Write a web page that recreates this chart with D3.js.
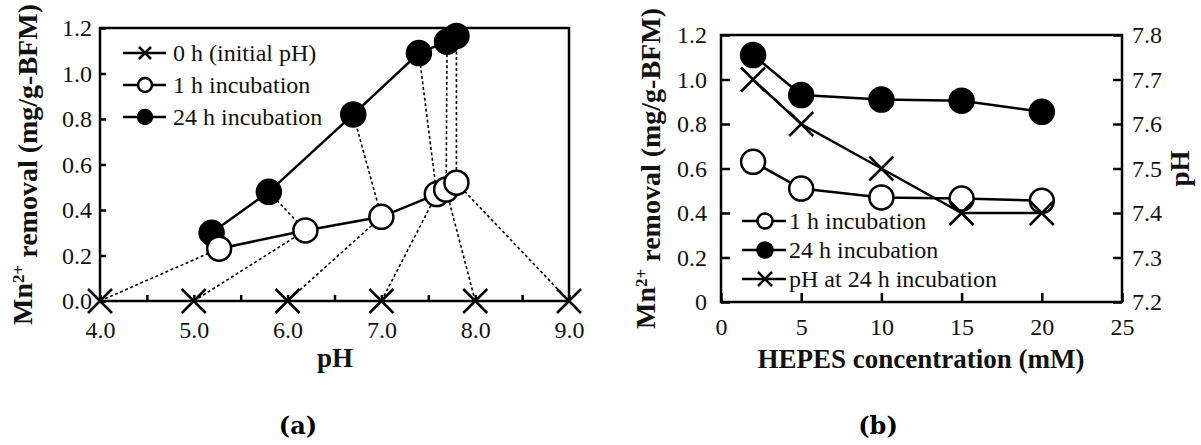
<!DOCTYPE html>
<html>
<head>
<meta charset="utf-8">
<script src="https://cdn.jsdelivr.net/npm/d3@7"></script>
<style>
  body { margin: 0; background: #fff; }
</style>
</head>
<body>
<div id="chart"></div>
<script>
// panel (a): initial pH -> pH / removal after 1 h and 24 h
var initialPH  = [4, 5, 6, 7, 8, 9];
var ph1h       = [5.27, 6.19, 7.00, 7.59, 7.69, 7.80];
var removal1h  = [0.23, 0.31, 0.37, 0.47, 0.49, 0.52];
var ph24h      = [5.19, 5.80, 6.70, 7.40, 7.70, 7.80];
var removal24h = [0.30, 0.48, 0.82, 1.09, 1.14, 1.165];

// panel (b): HEPES concentration
var hepes       = [2, 5, 10, 15, 20];
var removalB1h  = [0.63, 0.51, 0.47, 0.465, 0.455];
var removalB24h = [1.11, 0.93, 0.91, 0.905, 0.855];
var phB24h      = [7.70, 7.60, 7.50, 7.40, 7.40];

var legendA = ["0 h (initial pH)", "1 h incubation", "24 h incubation"];
var legendB = ["1 h incubation", "24 h incubation", "pH at 24 h incubation"];

var serif = "'Liberation Serif', 'Times New Roman', Times, serif";

var svg = d3.select("#chart").append("svg")
  .attr("width", 1201).attr("height", 445)
  .attr("font-family", serif);

function cross(g, x, y, s) {
  g.append("path")
    .attr("d", `M${x - s},${y - s}L${x + s},${y + s}M${x - s},${y + s}L${x + s},${y - s}`)
    .attr("stroke", "#000").attr("stroke-width", 2.5).attr("fill", "none");
}

function circle(g, x, y, r, filled) {
  g.append("circle")
    .attr("cx", x).attr("cy", y).attr("r", r)
    .attr("fill", filled ? "#000" : "#fff")
    .attr("stroke", "#000").attr("stroke-width", 2.5);
}

function txt(g) {
  return g.append("text").style("font-family", serif).attr("fill", "#111");
}

function yTitle(g, x, y) {
  var t = txt(g)
    .attr("transform", `translate(${x},${y}) rotate(-90)`)
    .attr("text-anchor", "middle")
    .style("font-size", "28px").style("font-weight", "bold");
  t.append("tspan").text("Mn");
  t.append("tspan").attr("dy", "-0.45em").style("font-size", "17px").text("2+");
  t.append("tspan").attr("dy", "0.45em").text(" removal (mg/g-BFM)");
}

function styleAxis(sel) {
  sel.attr("font-family", null).attr("font-size", null);
  sel.select(".domain").remove();
  sel.selectAll(".tick line").attr("stroke", "#000").attr("stroke-width", 2.5);
  sel.selectAll(".tick text")
    .style("font-family", serif).style("font-size", "24px").attr("fill", "#111");
}

// ---------------- panel (a) ----------------
var ga = svg.append("g");
var xa = d3.scaleLinear().domain([4, 9]).range([100, 569]);
var ya = d3.scaleLinear().domain([0, 1.2]).range([301, 28]);

ga.append("g").attr("transform", "translate(0,301)")
  .call(d3.axisBottom(xa).tickValues(d3.range(4, 9.01, 0.5)).tickSize(-6).tickPadding(20)
    .tickFormat(d => d % 1 === 0 ? d3.format(".1f")(d) : ""))
  .call(styleAxis);

ga.append("g").attr("transform", "translate(100,0)")
  .call(d3.axisLeft(ya).tickValues(d3.range(0, 1.21, 0.2)).tickSize(-6).tickPadding(8)
    .tickFormat(d3.format(".1f")))
  .call(styleAxis);

ga.append("rect")
  .attr("x", xa(4)).attr("y", ya(1.2))
  .attr("width", xa(9) - xa(4)).attr("height", ya(0) - ya(1.2))
  .attr("fill", "none").attr("stroke", "#000").attr("stroke-width", 2.5);

// dotted connectors 0 h -> 1 h -> 24 h
initialPH.forEach(function(p, i) {
  ga.append("path")
    .attr("d", d3.line()([[xa(p), ya(0)], [xa(ph1h[i]), ya(removal1h[i])], [xa(ph24h[i]), ya(removal24h[i])]]))
    .attr("fill", "none").attr("stroke", "#000").attr("stroke-width", 1.6)
    .attr("stroke-dasharray", "3,2.5");
});

var lineA = d3.line().x(d => xa(d[0])).y(d => ya(d[1]));

ga.append("path").datum(ph24h.map((p, i) => [p, removal24h[i]]))
  .attr("d", lineA).attr("fill", "none").attr("stroke", "#000").attr("stroke-width", 2.5);
ph24h.forEach((p, i) => circle(ga, xa(p), ya(removal24h[i]), 12, true));

ga.append("path").datum(ph1h.map((p, i) => [p, removal1h[i]]))
  .attr("d", lineA).attr("fill", "none").attr("stroke", "#000").attr("stroke-width", 2.5);
ph1h.forEach((p, i) => circle(ga, xa(p), ya(removal1h[i]), 12, false));

initialPH.forEach(p => cross(ga, xa(p), ya(0), 12));

// legend (a)
legendA.forEach(function(name, i) {
  var ly = 53 + i * 32;
  ga.append("line").attr("x1", 123).attr("x2", 166).attr("y1", ly).attr("y2", ly)
    .attr("stroke", "#000").attr("stroke-width", 2.5);
  if (i === 0) cross(ga, 145, ly, 6);
  else circle(ga, 145, ly, 7, i === 2);
  txt(ga).attr("x", 173).attr("y", ly).attr("dy", "0.33em")
    .style("font-size", "24px").text(name);
});

yTitle(ga, 32, ya(0.6));
txt(ga).attr("x", 335).attr("y", 367).attr("text-anchor", "middle")
  .style("font-size", "27px").style("font-weight", "bold").text("pH");
ga.append("text").attr("x", 298).attr("y", 434).attr("text-anchor", "middle")
  .style("font-family", "'DejaVu Serif', serif").style("font-size", "24px").style("font-weight", "bold")
  .text("(a)");

// ---------------- panel (b) ----------------
var gb = svg.append("g");
var xb = d3.scaleLinear().domain([0, 25]).range([721, 1122]);
var yb = d3.scaleLinear().domain([0, 1.2]).range([302, 35]);
var yb2 = d3.scaleLinear().domain([7.2, 7.8]).range([302, 35]);

gb.append("g").attr("transform", "translate(0,302)")
  .call(d3.axisBottom(xb).tickValues([0, 5, 10, 15, 20, 25]).tickSize(-9).tickPadding(16))
  .call(styleAxis);

gb.append("g").attr("transform", "translate(721,0)")
  .call(d3.axisLeft(yb).tickValues(d3.range(0, 1.21, 0.2)).tickSize(-9).tickPadding(14)
    .tickFormat(d => d < 0.01 ? "0" : d3.format(".1f")(d)))
  .call(styleAxis);

gb.append("g").attr("transform", "translate(1122,0)")
  .call(d3.axisRight(yb2).tickValues(d3.range(7.2, 7.81, 0.1)).tickSize(-9).tickPadding(10)
    .tickFormat(d3.format(".1f")))
  .call(styleAxis);

gb.append("rect")
  .attr("x", xb(0)).attr("y", yb(1.2))
  .attr("width", xb(25) - xb(0)).attr("height", yb(0) - yb(1.2))
  .attr("fill", "none").attr("stroke", "#000").attr("stroke-width", 2.5);

function seriesLine(g, xs, ys, xs_, ys_) {
  g.append("path")
    .attr("d", d3.line()(xs.map((v, i) => [xs_(v), ys_(ys[i])])))
    .attr("fill", "none").attr("stroke", "#000").attr("stroke-width", 2.5);
}

seriesLine(gb, hepes, removalB1h, xb, yb);
seriesLine(gb, hepes, removalB24h, xb, yb);
seriesLine(gb, hepes, phB24h, xb, yb2);
hepes.forEach((h, i) => circle(gb, xb(h), yb(removalB1h[i]), 12, false));
hepes.forEach((h, i) => circle(gb, xb(h), yb(removalB24h[i]), 12, true));
hepes.forEach((h, i) => cross(gb, xb(h), yb2(phB24h[i]), 12));

// legend (b)
legendB.forEach(function(name, i) {
  var ly = 221 + i * 29;
  gb.append("line").attr("x1", 742).attr("x2", 786).attr("y1", ly).attr("y2", ly)
    .attr("stroke", "#000").attr("stroke-width", 2.5);
  if (i === 2) cross(gb, 765, ly, 7);
  else circle(gb, 765, ly, 7.5, i === 1);
  txt(gb).attr("x", 789).attr("y", ly).attr("dy", "0.33em")
    .style("font-size", "24px").text(name);
});

yTitle(gb, 655, yb(0.6));
txt(gb)
  .attr("transform", `translate(1189,${yb(0.6)}) rotate(-90)`)
  .attr("text-anchor", "middle")
  .style("font-size", "27px").style("font-weight", "bold").text("pH");
txt(gb).attr("x", 921).attr("y", 368).attr("text-anchor", "middle")
  .style("font-size", "27px").style("font-weight", "bold").text("HEPES concentration (mM)");
gb.append("text").attr("x", 878).attr("y", 434).attr("text-anchor", "middle")
  .style("font-family", "'DejaVu Serif', serif").style("font-size", "24px").style("font-weight", "bold")
  .text("(b)");
</script>
</body>
</html>
